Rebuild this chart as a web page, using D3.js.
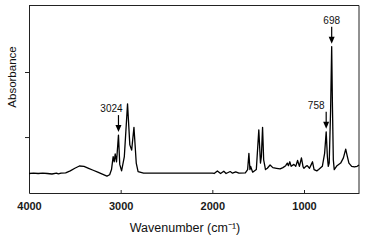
<!DOCTYPE html>
<html>
<head>
<meta charset="utf-8">
<script src="https://cdn.jsdelivr.net/npm/d3@7"></script>
<style>
  body { margin: 0; background: #fff; }
  text { font-family: "Liberation Sans", Arial, sans-serif; }
</style>
</head>
<body>
<div id="chart-area"></div>
<script>
// Spectrum (wavenumber in cm-1, absorbance)
var wavenumbers = [4000, 3950, 3900, 3850, 3800, 3750, 3700, 3680, 3650, 3600, 3550, 3500, 3450, 3400, 3350, 3300, 3250, 3200, 3150, 3120, 3100, 3082, 3070, 3060, 3045, 3024, 3010, 2990, 2960, 2925, 2900, 2880, 2855, 2830, 2810, 2750, 2500, 2200, 2000, 1980, 1945, 1910, 1875, 1850, 1805, 1780, 1745, 1710, 1640, 1615, 1601, 1590, 1583, 1560, 1520, 1493, 1475, 1465, 1452, 1440, 1420, 1400, 1370, 1340, 1300, 1260, 1230, 1200, 1182, 1170, 1155, 1140, 1110, 1090, 1070, 1050, 1028, 1010, 1000, 980, 965, 940, 920, 907, 890, 860, 840, 800, 775, 758, 745, 735, 725, 710, 698, 690, 680, 670, 640, 600, 570, 545, 530, 510, 480, 450, 420, 400];
var absorbance  = [0.44, 0.445, 0.44, 0.447, 0.44, 0.432, 0.445, 0.435, 0.447, 0.45, 0.48, 0.52, 0.555, 0.55, 0.52, 0.49, 0.46, 0.43, 0.40, 0.42, 0.50, 0.70, 0.62, 0.74, 0.62, 1.03, 0.58, 0.48, 0.70, 1.51, 0.88, 0.80, 1.15, 0.60, 0.47, 0.445, 0.445, 0.445, 0.445, 0.44, 0.48, 0.44, 0.475, 0.44, 0.47, 0.445, 0.465, 0.445, 0.45, 0.50, 0.75, 0.50, 0.55, 0.46, 0.50, 1.11, 0.60, 0.70, 1.15, 0.65, 0.50, 0.52, 0.57, 0.53, 0.52, 0.51, 0.53, 0.56, 0.60, 0.56, 0.62, 0.55, 0.58, 0.55, 0.64, 0.55, 0.68, 0.54, 0.52, 0.55, 0.56, 0.52, 0.58, 0.62, 0.50, 0.48, 0.50, 0.55, 0.75, 1.08, 0.70, 0.55, 0.60, 1.40, 2.39, 1.50, 0.65, 0.50, 0.56, 0.60, 0.68, 0.815, 0.72, 0.60, 0.55, 0.54, 0.55, 0.57];

var xTicks = [4000, 3000, 2000, 1000];
var yTicks = [1, 2];
var peakLabels = [3024, 758, 698];
var labelShift = {3024: -7, 758: -10, 698: 0};

var margin = {left: 29, right: 11, top: 5, bottom: 47};
var width = 370 - margin.left - margin.right,
    height = 240 - margin.top - margin.bottom;

var svg = d3.select('#chart-area')
    .append('svg')
        .attr('width', 370)
        .attr('height', 240);
var g = svg.append('g')
        .attr('transform', 'translate(' + margin.left + ',' + margin.top + ')');

//X Scale (reversed, 4000 -> 400)
var x = d3.scaleLinear()
    .domain([4000, 400])
    .range([0, width]);

//Y Scale
var y = d3.scaleLinear()
    .domain([0.14, 3.03])
    .range([height, 0]);

//Frame top + right
g.append('path')
    .attr('d', 'M0,0.5H' + width + 'V' + height)
    .attr('fill', 'none')
    .attr('stroke', '#222')
    .attr('stroke-width', 1);

//X Axis
var xAxisCall = d3.axisBottom(x)
    .tickValues(xTicks)
    .tickSize(-3)
    .tickSizeOuter(0)
    .tickPadding(9)
    .tickFormat(d3.format('d'));
var xAxis = g.append('g')
    .attr('class', 'x axis')
    .attr('transform', 'translate(0,' + height + ')')
    .call(xAxisCall);
xAxis.select('.domain').attr('stroke', '#222');
xAxis.selectAll('line').attr('stroke', '#222');
xAxis.selectAll('text')
    .attr('font-size', '11px')
    .attr('font-weight', 'bold')
    .attr('fill', '#1a1a1a')
    .attr('font-family', '"Liberation Sans", Arial, sans-serif');

//Y Axis
var yAxisCall = d3.axisLeft(y)
    .tickValues(yTicks)
    .tickSize(4)
    .tickSizeOuter(0)
    .tickFormat('');
var yAxis = g.append('g')
    .attr('class', 'y axis')
    .call(yAxisCall);
yAxis.select('.domain').attr('stroke', '#222');
yAxis.selectAll('line').attr('stroke', '#222');

//X Label
g.append('text')
    .attr('y', height + 39)
    .attr('x', 156)
    .attr('font-size', '12.5px')
    .attr('text-anchor', 'middle')
    .attr('fill', '#111')
    .text('Wavenumber (cm\u207B\u00B9)');

//Y Label
g.append('text')
    .attr('y', -13)
    .attr('x', -72)
    .attr('font-size', '11.5px')
    .attr('text-anchor', 'middle')
    .attr('transform', 'rotate(-90)')
    .attr('fill', '#111')
    .text('Absorbance');

//Spectrum
var points = wavenumbers.map(function(d, i){ return [d, absorbance[i]]; });
var line = d3.line()
    .x(function(d){ return x(d[0]); })
    .y(function(d){ return y(d[1]); });
g.append('path')
    .datum(points)
    .attr('fill', 'none')
    .attr('stroke', '#000')
    .attr('stroke-width', 1.3)
    .attr('stroke-linejoin', 'round')
    .attr('d', line);

//Peak arrows + labels
peakLabels.forEach(function(p){
    var i = wavenumbers.indexOf(p);
    var px = x(p), py = y(absorbance[i]);
    g.append('line')
        .attr('x1', px).attr('x2', px)
        .attr('y1', py - 20).attr('y2', py - 8)
        .attr('stroke', '#000')
        .attr('stroke-width', 1.2);
    g.append('path')
        .attr('d', 'M' + (px - 3) + ',' + (py - 10) + 'L' + (px + 3) + ',' + (py - 10) + 'L' + px + ',' + (py - 3) + 'Z')
        .attr('fill', '#000');
    g.append('text')
        .attr('x', px + labelShift[p])
        .attr('y', py - 23)
        .attr('font-size', '10px')
        .attr('text-anchor', 'middle')
        .attr('fill', '#111')
        .text(p);
});
</script>
</body>
</html>
